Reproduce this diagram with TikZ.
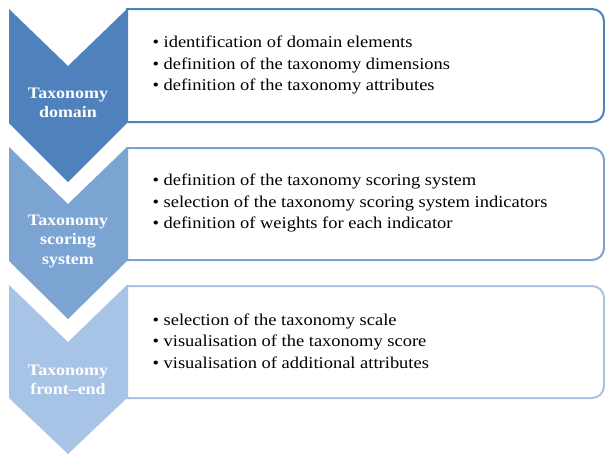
\documentclass[tikz,border=0pt]{standalone}
\usepackage{fontspec}
\setmainfont{Liberation Serif}[FakeStretch=1.12]
\usepackage{tikz}
\usetikzlibrary{positioning}
\definecolor{stepdark}{RGB}{79,129,189}
\definecolor{stepmid}{RGB}{124,164,211}
\definecolor{steplight}{RGB}{167,196,230}
\tikzstyle{listbox} = [line width=2pt, fill=white]
\tikzstyle{chevlabel} = [text=white, font=\fontsize{16}{19.5}\selectfont\bfseries, align=center]
\tikzstyle{itemtext} = [anchor=west, align=left, font=\fontsize{16.5}{21.5}\selectfont, text=black]

\begin{document}
\begin{tikzpicture}[x=1pt, y=-1pt]
\useasboundingbox (0,0) rectangle (605,455);

% boxes
\draw [listbox, draw=stepdark] (127,9) [rounded corners=12pt] -- (604,9) -- (604,122) [sharp corners] -- (127,122) -- cycle;
\draw [listbox, draw=stepmid] (127,148) [rounded corners=12pt] -- (604,148) -- (604,260) [sharp corners] -- (127,260) -- cycle;
\draw [listbox, draw=steplight] (127,286) [rounded corners=12pt] -- (604,286) -- (604,398) [sharp corners] -- (127,398) -- cycle;

% chevrons
\fill [stepdark] (9,9) -- (68,66) -- (127,9) -- (127,123) -- (68,182) -- (9,123) -- cycle;
\fill [stepmid] (9,147) -- (68,204) -- (127,147) -- (127,261) -- (68,319) -- (9,261) -- cycle;
\fill [steplight] (9,285) -- (68,342) -- (127,285) -- (127,398) -- (68,454) -- (9,398) -- cycle;

\node (domain) [chevlabel] at (68,103) {Taxonomy\\domain};
\node (scoring) [chevlabel] at (68,241) {Taxonomy\\scoring\\system};
\node (frontend) [chevlabel] at (68,380) {Taxonomy\\front–end};

\node (domainlist) [itemtext] at (149,65) {• identification of domain elements\\• definition of the taxonomy dimensions\\• definition of the taxonomy attributes};
\node (scoringlist) [itemtext] at (149,203) {• definition of the taxonomy scoring system\\• selection of the taxonomy scoring system indicators\\• definition of weights for each indicator};
\node (frontendlist) [itemtext] at (149,341) {• selection of the taxonomy scale\\• visualisation of the taxonomy score\\• visualisation of additional attributes};

\end{tikzpicture}
\end{document}
